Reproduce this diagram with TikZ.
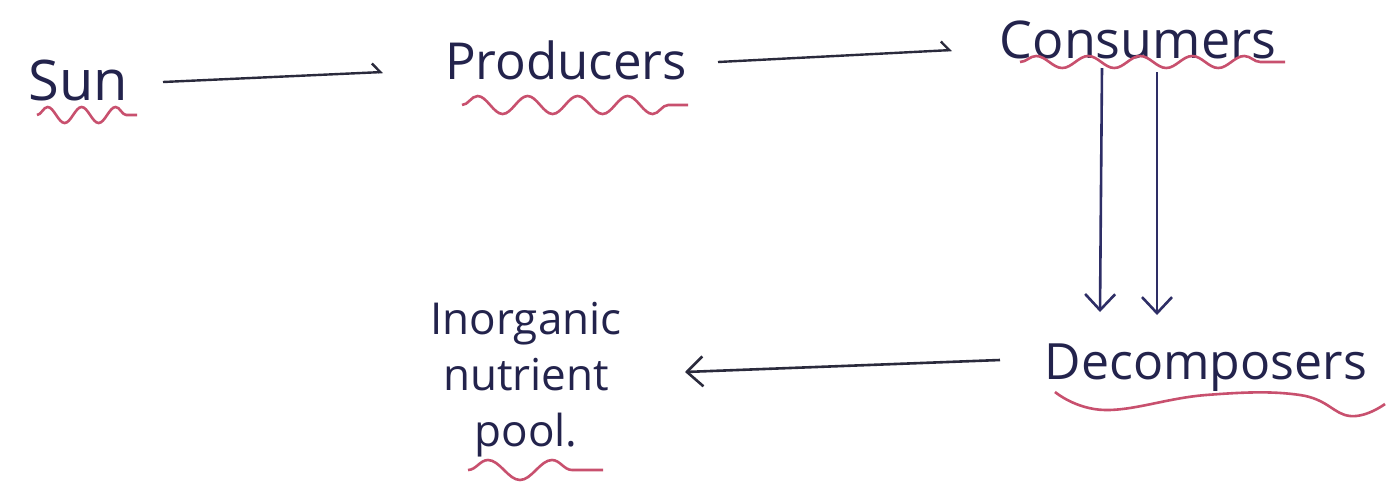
\documentclass[tikz,border=0pt]{standalone}
\usepackage{fontspec}
\setmainfont{Open Sans}
\usetikzlibrary{arrows.meta,decorations.pathmorphing,calc}
\definecolor{ink}{HTML}{23234C}
\definecolor{pen}{HTML}{2A2A3C}
\definecolor{bluepen}{HTML}{2E2E66}
\definecolor{wave}{HTML}{C8506E}
\tikzset{
  lbl/.style={text=ink, inner sep=0pt, font=\fontsize{#1}{#1}\selectfont},
  hookarr/.style={draw=pen, line width=1.2pt, -{Straight Barb[harpoon,length=4pt,width=9pt]}},
  varr/.style={draw=#1, line width=1.3pt, -{Straight Barb[length=8pt,width=15pt,line width=1.3pt]}},
  squig/.style 2 args={draw=wave, line width=1.3pt, decorate, decoration={snake, segment length=#1, amplitude=#2}},
  wavyline/.style={draw=wave, line width=1.3pt}
}
\begin{document}
\begin{tikzpicture}[x=0.5pt,y=-0.5pt]
\useasboundingbox[fill=white] (0,0) rectangle (1399,489);

\node[lbl=28] (sun) at (78,80) {Sun};
\node[lbl=25.5] (prod) at (566,60) {Producers};
\node[lbl=26] (cons) at (1138,40) {Consumers};
\node[lbl=25] (decomp) at (1206,368) {Decomposers};
\node[lbl=22, align=center, font=\fontsize{22}{28}\selectfont] (pool) at (526,380) {Inorganic\\nutrient\\pool.};

% wavy underlines
\draw[squig={17pt}{4pt}] ($(sun)+(-41,35)$) -- ($(sun)+(59,35)$);
\draw[squig={25pt}{4.5pt}] ($(prod)+(-104,45)$) -- ($(prod)+(122,45)$);
\draw[squig={26pt}{3pt}] ($(cons)+(-118,22)$) -- ($(cons)+(147,22)$);
\draw[wavyline] plot[smooth, tension=0.7] coordinates {($(decomp)+(-151,24)$) ($(decomp)+(-101,42)$) ($(decomp)+(0,27)$) ($(decomp)+(94,27)$) ($(decomp)+(144,48)$) ($(decomp)+(179,36)$)};
\draw[squig={32pt}{5pt}] ($(pool)+(-58,90)$) -- ($(pool)+(77,90)$);

% connectors
\draw[hookarr] ($(sun)+(85,2)$) -- ($(prod)+(-183,12)$);
\draw[hookarr] ($(prod)+(152,2)$) -- ($(cons)+(-186,10)$);
\draw[varr=bluepen] ($(cons)+(-36,28)$) -- ($(decomp)+(-106,-56)$);
\draw[varr=bluepen] ($(cons)+(19,32)$) -- ($(decomp)+(-49,-53)$);
\draw[varr=pen] ($(decomp)+(-206,-8)$) -- ($(pool)+(159,-8)$);
\end{tikzpicture}
\end{document}
